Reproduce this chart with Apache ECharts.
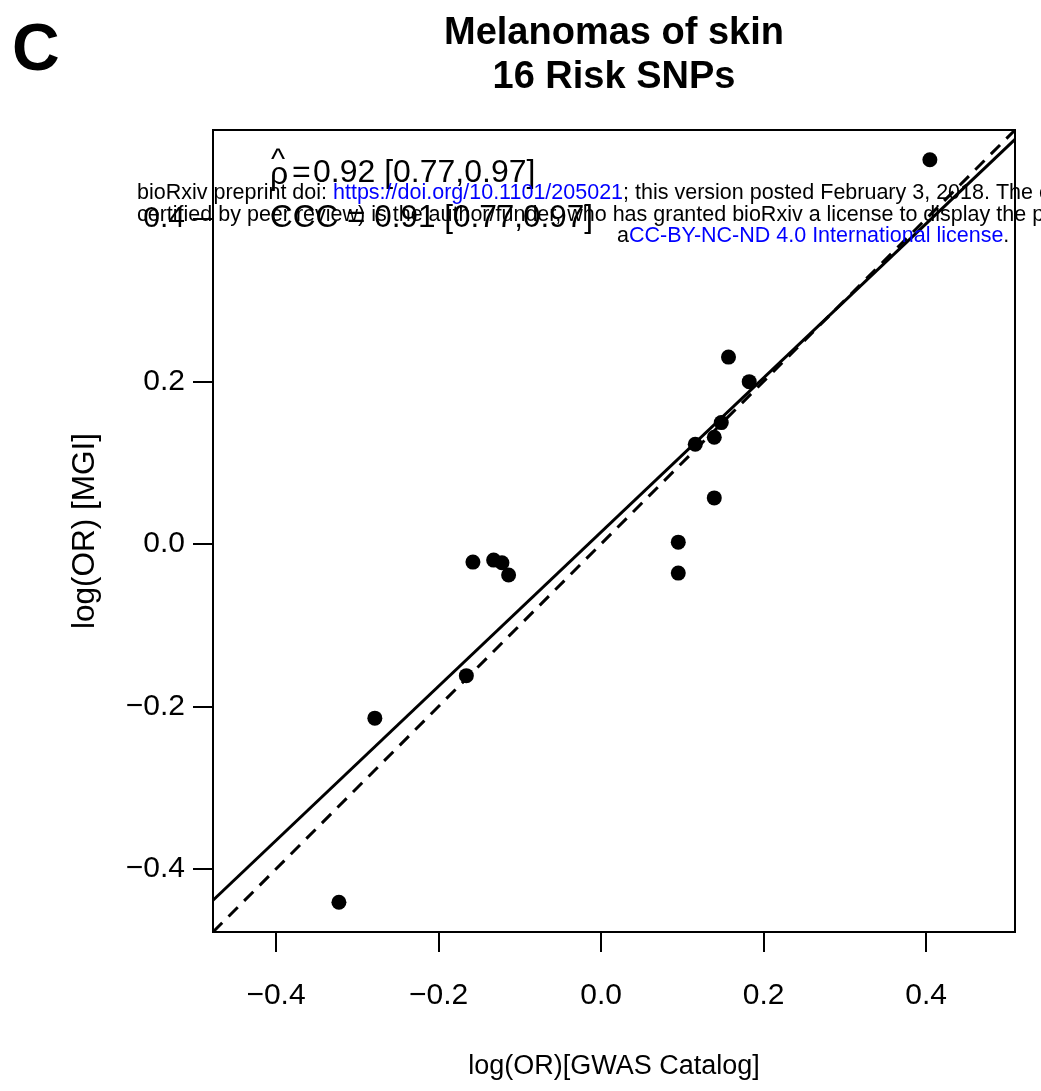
<!DOCTYPE html>
<html>
<head>
<meta charset="utf-8">
<script src="https://cdn.jsdelivr.net/npm/echarts@6/dist/echarts.min.js"></script>
<style>
html,body{margin:0;padding:0;background:#fff;overflow:hidden;}
#chart{width:1041px;height:1091px;}
</style>
</head>
<body>
<div id="chart"></div>
<script>
// ---- data ----
const gwasLogOR = [0.4046, 0.1568, 0.1823, 0.1479, 0.1393, 0.1159, 0.1393, 0.0950, 0.0950,
                   -0.1577, -0.1322, -0.1220, -0.1138, -0.1658, -0.2784, -0.3226];
const mgiLogOR  = [0.4728, 0.2299, 0.1997, 0.1493, 0.1312, 0.1226, 0.0566, 0.0022, -0.0359,
                   -0.0224, -0.0199, -0.0232, -0.0383, -0.1621, -0.2144, -0.4410];
const tickValues = [-0.4, -0.2, 0.0, 0.2, 0.4];
const tickLabels = ['\u22120.4', '\u22120.2', '0.0', '0.2', '0.4'];
const titleLines = ['Melanomas of skin', '16 Risk SNPs'];
const rhoValue = '0.92 [0.77,0.97]';
const statCCC = 'CCC = 0.91 [0.77,0.97]';

// ---- derived ----
const all = gwasLogOR.concat(mgiLogOR);
const lo0 = Math.min(...all), hi0 = Math.max(...all);
const pad = 0.04 * (hi0 - lo0);
const lo = lo0 - pad, hi = hi0 + pad;
const pts = gwasLogOR.map((x, i) => [x, mgiLogOR[i]]);
// OLS fit
const n = pts.length;
const mx = gwasLogOR.reduce((a, b) => a + b, 0) / n;
const my = mgiLogOR.reduce((a, b) => a + b, 0) / n;
let sxy = 0, sxx = 0;
for (let i = 0; i < n; i++) { sxy += (gwasLogOR[i] - mx) * (mgiLogOR[i] - my); sxx += (gwasLogOR[i] - mx) ** 2; }
const slope = sxy / sxx, intercept = my - slope * mx;
const fitLine = [[lo, intercept + slope * lo], [hi, intercept + slope * hi]];
const idLine = [[lo, lo], [hi, hi]];

const FF = '"Liberation Sans", Arial, Helvetica, sans-serif';
const labelFmt = v => { const k = tickValues.findIndex(t => Math.abs(t - v) < 1e-9); return k >= 0 ? tickLabels[k] : ''; };
const WM = '21.5px ' + FF;

const chart = echarts.init(document.getElementById('chart'), null, {renderer: 'canvas'});
chart.setOption({
  backgroundColor: '#ffffff',
  animation: false,
  grid: {left: 213, top: 130, width: 802, height: 802, show: true, borderColor: '#000', borderWidth: 2,
         backgroundColor: 'transparent', containLabel: false, outerBoundsMode: 'none'},
  xAxis: {
    type: 'value', min: lo, max: hi,
    axisLine: {show: false, onZero: false},
    splitLine: {show: false},
    axisTick: {show: true, length: 20, lineStyle: {color: '#000', width: 2}, customValues: tickValues},
    axisLabel: {fontFamily: FF, fontSize: 30, color: '#000', margin: 49, customValues: tickValues, formatter: labelFmt},
    name: 'log(OR)[GWAS Catalog]', nameLocation: 'middle', nameGap: 121,
    nameTextStyle: {fontFamily: FF, fontSize: 27, color: '#000'}
  },
  yAxis: {
    type: 'value', min: lo, max: hi,
    axisLine: {show: false, onZero: false},
    splitLine: {show: false},
    axisTick: {show: true, length: 20, lineStyle: {color: '#000', width: 2}, customValues: tickValues},
    axisLabel: {fontFamily: FF, fontSize: 30, color: '#000', margin: 28, customValues: tickValues, formatter: labelFmt},
    name: 'log(OR) [MGI]', nameLocation: 'middle', nameGap: 112, nameRotate: 90,
    nameTextStyle: {fontFamily: FF, fontSize: 31.5, color: '#000'}
  },
  series: [
    {type: 'line', data: idLine, symbol: 'none', silent: true,
     lineStyle: {color: '#000', width: 3, type: [13, 9]}, z: 2},
    {type: 'line', data: fitLine, symbol: 'none', silent: true,
     lineStyle: {color: '#000', width: 3, type: 'solid'}, z: 2},
    {type: 'scatter', data: pts, symbol: 'circle', symbolSize: 15,
     itemStyle: {color: '#000', opacity: 1}, z: 3}
  ],
  graphic: [
    {type: 'text', left: 12, top: 19, style: {text: 'C', font: 'bold 66px ' + FF, fill: '#000'}},
    {type: 'text', x: 614, y: 34, style: {text: titleLines[0], font: 'bold 38px ' + FF, fill: '#000', align: 'center', verticalAlign: 'middle'}},
    {type: 'text', x: 614, y: 78, style: {text: titleLines[1], font: 'bold 38px ' + FF, fill: '#000', align: 'center', verticalAlign: 'middle'}},
    {type: 'text', x: 270, y: 175, z: 10, style: {text: 'ρ', font: '32px ' + FF, fill: '#000', verticalAlign: 'middle'}},
    {type: 'text', x: 278, y: 161, z: 10, style: {text: '^', font: '30px ' + FF, fill: '#000', align: 'center', verticalAlign: 'middle'}},
    {type: 'text', x: 292, y: 173, z: 10, style: {text: '=', font: '32px ' + FF, fill: '#000', verticalAlign: 'middle'}},
    {type: 'text', x: 313, y: 173, z: 10, style: {text: rhoValue, font: '32px ' + FF, fill: '#000', verticalAlign: 'middle'}},
    {type: 'text', x: 270, y: 218, z: 10, style: {text: statCCC, font: '31.5px ' + FF, fill: '#000', verticalAlign: 'middle'}},
    {type: 'text', x: 137, y: 193, z: 11, style: {
      text: '{k|bioRxiv preprint doi: }{b|https://doi.org/10.1101/205021}{k|; this version posted February 3, 2018. The copyright holder}',
      verticalAlign: 'middle',
      rich: {k: {font: WM, fill: '#000', color: '#000'}, b: {font: WM, fill: '#0000ff', color: '#0000ff'}}}},
    {type: 'text', x: 137, y: 215, z: 11, style: {
      text: 'certified by peer review) is the author/funder, who has granted bioRxiv a license to display the preprint in perpetuity.',
      font: WM, fill: '#000', verticalAlign: 'middle'}},
    {type: 'text', x: 617, y: 236, z: 11, style: {
      text: '{k|a}{b|CC-BY-NC-ND 4.0 International license}{k|.}',
      verticalAlign: 'middle',
      rich: {k: {font: WM, fill: '#000', color: '#000'}, b: {font: WM, fill: '#0000ff', color: '#0000ff'}}}}
  ]
});
</script>
</body>
</html>
